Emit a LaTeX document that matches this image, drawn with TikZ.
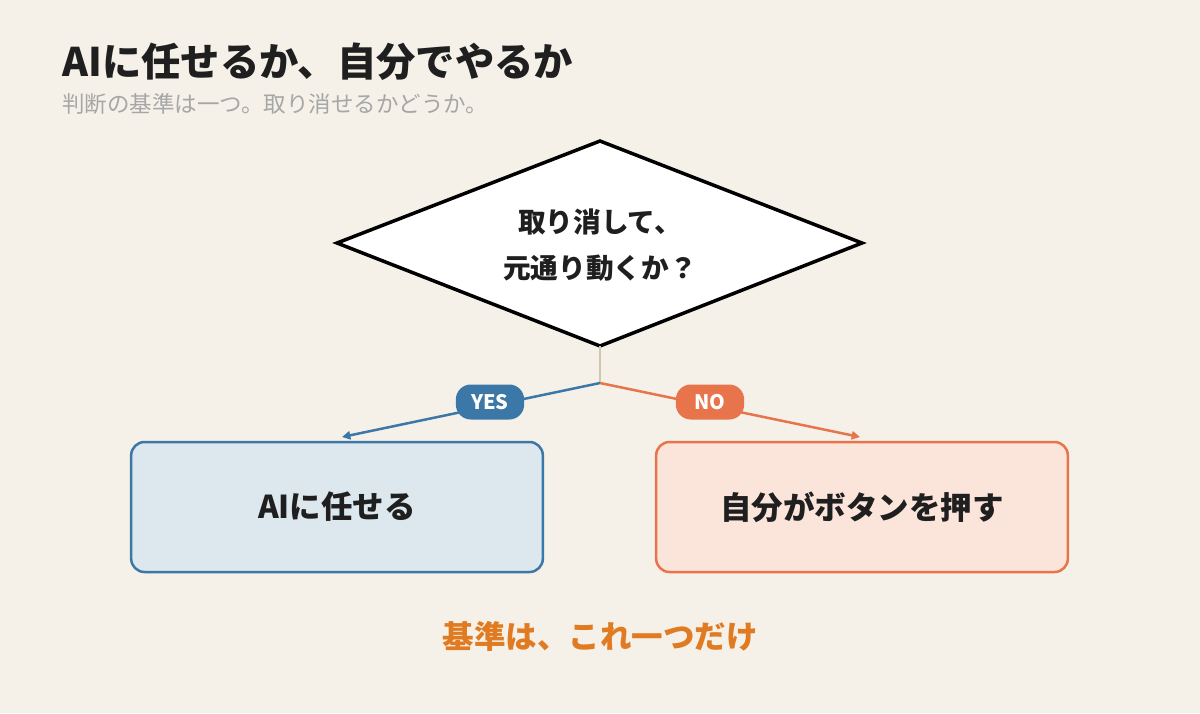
\documentclass[tikz,border=0pt]{standalone}
\usepackage{fontspec}
\setmainfont{Noto Sans CJK JP}
\usetikzlibrary{arrows.meta}
\definecolor{bg}{HTML}{F5F1E9}
\definecolor{blu}{HTML}{3B77A7}
\definecolor{org}{HTML}{E8744B}
\definecolor{stem}{HTML}{CFC8B0}
\definecolor{gold}{HTML}{E07B22}
\definecolor{bluf}{HTML}{DDE8EE}
\definecolor{orgf}{HTML}{FBE5DB}
\tikzset{
 pill/.style={rounded corners=9pt,minimum width=41pt,minimum height=21pt,text=white,font=\bfseries\fontsize{12}{12}\selectfont,inner sep=0pt},
 box/.style={rounded corners=8pt,line width=1.5pt,minimum width=247pt,minimum height=78pt},
 arr/.style={line width=1.5pt,-{Triangle[length=5pt,width=5pt]}},
 dark/.style={text=black!88}
}
\begin{document}
\begin{tikzpicture}[x=0.6pt,y=-0.6pt]
\fill[bg] (0,0) rectangle (1200,713);
\useasboundingbox (0,0) rectangle (1200,713);
\node[anchor=base west,inner sep=0,font=\bfseries\fontsize{23.6}{24}\selectfont,dark] (t) at (62,76) {AIに任せるか、自分でやるか};
\node[anchor=base west,inner sep=0,font=\fontsize{13.5}{14}\selectfont,text=black!35] (s) at (62,112) {判断の基準は一つ。取り消せるかどうか。};
\coordinate (T) at (600,141); \coordinate (L) at (337,243); \coordinate (R) at (862,243); \coordinate (B) at (600,346);
\draw[line width=2.1pt,fill=white,line join=miter] (T)--(R)--(B)--(L)--cycle;
\node[font=\bfseries\fontsize{16.6}{17}\selectfont,dark] (q1) at (600,222) {取り消して、};
\node[font=\bfseries\fontsize{16.6}{17}\selectfont,dark] (q2) at (600,268) {元通り動くか？};
\coordinate (J) at (600,383);
\draw[stem,line width=1.5pt] (B)--(J);
\node[box,draw=blu,fill=bluf] (yb) at (337,507) {};
\node[box,draw=org,fill=orgf] (nb) at (862,507) {};
\node[font=\bfseries\fontsize{18.9}{19}\selectfont,dark] at (yb) {AIに任せる};
\node[font=\bfseries\fontsize{18.9}{19}\selectfont,dark] at (nb) {自分がボタンを押す};
\coordinate (ya) at (342,437); \coordinate (na) at (860,437);
\draw[arr,blu] (J)--(ya);
\draw[arr,org] (J)--(na);
\node[pill,fill=blu] (yes) at (490,402) {YES};
\node[pill,fill=org] (no) at (710,402) {NO};
\node[font=\bfseries\fontsize{18.9}{19}\selectfont,text=gold] (f) at (600,636) {基準は、これ一つだけ};
\end{tikzpicture}
\end{document}
